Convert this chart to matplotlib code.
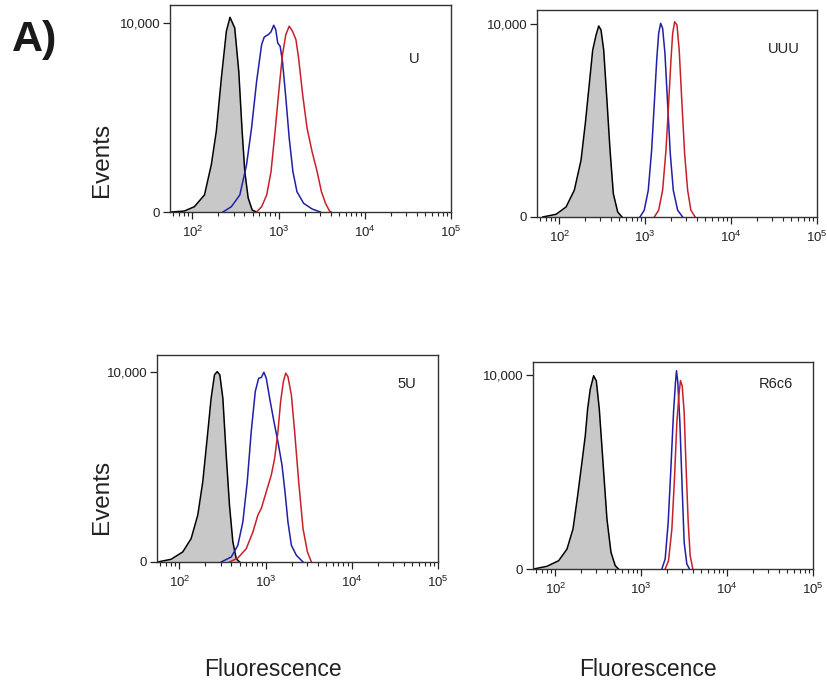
import numpy as np
import matplotlib
matplotlib.use("Agg")
import matplotlib.pyplot as plt

plt.rcParams['font.family'] = ['Liberation Sans', 'DejaVu Sans']
plt.rcParams['mathtext.fontset'] = 'custom'
plt.rcParams['mathtext.rm'] = 'Liberation Sans'
plt.rcParams['mathtext.it'] = 'Liberation Sans'

# curves: log10(fluorescence) positions and event counts
# panel U
u_ctrl_x = [1.754, 1.906, 2.023, 2.140, 2.219, 2.277, 2.336, 2.394, 2.436, 2.491, 2.538, 2.577, 2.608, 2.647, 2.694, 2.745]
u_ctrl_y = [0, 50, 280, 900, 2490, 4250, 7070, 9540, 10280, 9720, 7420, 4250, 2130, 740, 100, 0]
u_blue_x = [2.354, 2.452, 2.550, 2.628, 2.686, 2.745, 2.803, 2.834, 2.881, 2.912, 2.943, 2.967, 2.990, 3.018, 3.045, 3.084, 3.123, 3.166, 3.213, 3.290, 3.388, 3.485]
u_blue_y = [0, 280, 900, 2490, 4430, 6900, 8840, 9240, 9370, 9510, 9860, 9630, 8920, 8750, 7950, 6020, 3900, 2130, 1070, 460, 160, 0]
u_red_x = [2.745, 2.803, 2.862, 2.912, 2.959, 3.006, 3.045, 3.084, 3.123, 3.162, 3.201, 3.232, 3.279, 3.330, 3.388, 3.447, 3.497, 3.544, 3.591, 3.610]
u_red_y = [0, 280, 900, 2130, 4250, 6540, 8310, 9370, 9810, 9540, 9100, 8130, 6190, 4430, 3190, 2130, 1070, 460, 50, 0]

# panel UUU
uuu_ctrl_x = [1.807, 1.962, 2.078, 2.174, 2.252, 2.302, 2.349, 2.388, 2.427, 2.458, 2.485, 2.516, 2.551, 2.590, 2.628, 2.679, 2.729]
uuu_ctrl_y = [0, 140, 520, 1390, 2940, 4850, 6920, 8650, 9430, 9900, 9690, 8650, 6230, 3460, 1210, 260, 0]
uuu_blue_x = [2.938, 2.988, 3.035, 3.074, 3.105, 3.133, 3.156, 3.179, 3.202, 3.229, 3.260, 3.291, 3.326, 3.377, 3.435]
uuu_blue_y = [0, 350, 1390, 3460, 5880, 8130, 9520, 10040, 9780, 8480, 5880, 3290, 1390, 350, 0]
uuu_red_x = [3.105, 3.156, 3.202, 3.241, 3.272, 3.299, 3.319, 3.342, 3.369, 3.395, 3.427, 3.458, 3.493, 3.531, 3.581]
uuu_red_y = [0, 350, 1390, 3460, 5880, 8130, 9520, 10120, 9950, 8650, 5880, 3290, 1390, 350, 0]

# panel 5U
u5_ctrl_x = [1.748, 1.903, 2.039, 2.136, 2.213, 2.271, 2.322, 2.368, 2.407, 2.438, 2.469, 2.504, 2.543, 2.581, 2.620, 2.659, 2.698]
u5_ctrl_y = [0, 140, 530, 1230, 2470, 4220, 6510, 8630, 9860, 10030, 9860, 8630, 5630, 2990, 1060, 180, 0]
u5_blue_x = [2.485, 2.601, 2.678, 2.736, 2.787, 2.833, 2.880, 2.919, 2.950, 2.980, 3.008, 3.047, 3.097, 3.143, 3.190, 3.229, 3.259, 3.299, 3.357, 3.434]
u5_blue_y = [0, 260, 880, 2110, 4220, 6860, 8980, 9680, 9720, 10000, 9680, 8630, 7390, 6340, 5110, 3520, 2110, 880, 350, 0]
u5_red_x = [2.581, 2.678, 2.775, 2.853, 2.910, 2.950, 3.008, 3.066, 3.105, 3.143, 3.174, 3.206, 3.233, 3.259, 3.299, 3.337, 3.384, 3.434, 3.485, 3.531]
u5_red_y = [0, 210, 700, 1580, 2470, 2820, 3700, 4580, 5460, 6860, 8450, 9500, 9950, 9770, 8800, 6860, 4220, 1760, 530, 0]

# panel R6c6
r6_ctrl_x = [1.748, 1.903, 2.039, 2.136, 2.206, 2.260, 2.310, 2.349, 2.376, 2.407, 2.446, 2.477, 2.512, 2.555, 2.601, 2.648, 2.698, 2.736]
r6_ctrl_y = [0, 140, 430, 1030, 2070, 3790, 5510, 6890, 8260, 9290, 9980, 9720, 8260, 5510, 2580, 860, 170, 0]
r6_blue_x = [3.240, 3.279, 3.314, 3.345, 3.376, 3.399, 3.411, 3.426, 3.450, 3.477, 3.500, 3.531, 3.562]
r6_blue_y = [0, 520, 2410, 5160, 8090, 9640, 10240, 9640, 7570, 4130, 1380, 260, 0]
r6_red_x = [3.279, 3.318, 3.357, 3.387, 3.415, 3.438, 3.457, 3.477, 3.500, 3.523, 3.547, 3.570, 3.601]
r6_red_y = [0, 430, 2070, 4650, 7570, 8950, 9730, 9460, 8090, 5160, 2410, 690, 0]

panels = [
    ("U", [0.2053, 0.6896, 0.3394, 0.3031], (0.868, 0.739), 10930,
     (u_ctrl_x, u_ctrl_y), (u_blue_x, u_blue_y), (u_red_x, u_red_y)),
    ("UUU", [0.6486, 0.6823, 0.3382, 0.3031], (0.882, 0.812), 10730,
     (uuu_ctrl_x, uuu_ctrl_y), (uuu_blue_x, uuu_blue_y), (uuu_red_x, uuu_red_y)),
    ("5U", [0.1896, 0.1772, 0.3394, 0.3031], (0.890, 0.860), 10910,
     (u5_ctrl_x, u5_ctrl_y), (u5_blue_x, u5_blue_y), (u5_red_x, u5_red_y)),
    ("R6c6", [0.6437, 0.1669, 0.3382, 0.3031], (0.868, 0.894), 10690,
     (r6_ctrl_x, r6_ctrl_y), (r6_blue_x, r6_blue_y), (r6_red_x, r6_red_y)),
]

fig = plt.figure(figsize=(8.28, 6.83), dpi=100)

for name, rect, lab, ytop, ctrl, blue, red in panels:
    ax = fig.add_axes(rect)
    cx = 10 ** np.array(ctrl[0])
    ax.fill_between(cx, ctrl[1], 0, color='#c8c8c8', lw=0)
    ax.plot(cx, ctrl[1], color='black', lw=1.1)
    ax.plot(10 ** np.array(blue[0]), blue[1], color='#1f1fa8', lw=1.1)
    ax.plot(10 ** np.array(red[0]), red[1], color='#c8202a', lw=1.1)
    ax.set_xscale('log')
    ax.set_xlim(10 ** 1.74, 10 ** 5.0)
    ax.set_ylim(0, ytop)
    ax.set_yticks([0, 10000])
    ax.set_yticklabels(['0', '10,000'])
    ax.tick_params(axis='y', which='major', labelsize=9.5, length=5, width=0.9,
                   colors='#222222', pad=2)
    ax.tick_params(axis='x', which='major', labelsize=9.5, length=5, width=0.9,
                   colors='#222222', pad=4)
    ax.tick_params(axis='x', which='minor', length=3, width=0.8, colors='#222222')
    ax.tick_params(axis='y', which='minor', left=False)
    for s in ax.spines.values():
        s.set_linewidth(1.0)
        s.set_color('#333333')
    ax.text(lab[0], lab[1], name, transform=ax.transAxes, fontsize=10.5,
            ha='center', va='center', color='#222222')

fig.text(102 / 828, 1 - 160 / 683, 'Events', rotation=90, fontsize=17.5,
         ha='center', va='center', color='#222222')
fig.text(102 / 828, 1 - 497 / 683, 'Events', rotation=90, fontsize=17.5,
         ha='center', va='center', color='#222222')
fig.text(273 / 828, 1 - 669 / 683, 'Fluorescence', fontsize=16.5,
         ha='center', va='center', color='#222222')
fig.text(648 / 828, 1 - 669 / 683, 'Fluorescence', fontsize=16.5,
         ha='center', va='center', color='#222222')
fig.text(12 / 828, 1 - 40 / 683, 'A)', fontsize=31, fontweight='bold',
         ha='left', va='center', color='#1a1a1a')

fig.savefig('out.png', dpi=100)
